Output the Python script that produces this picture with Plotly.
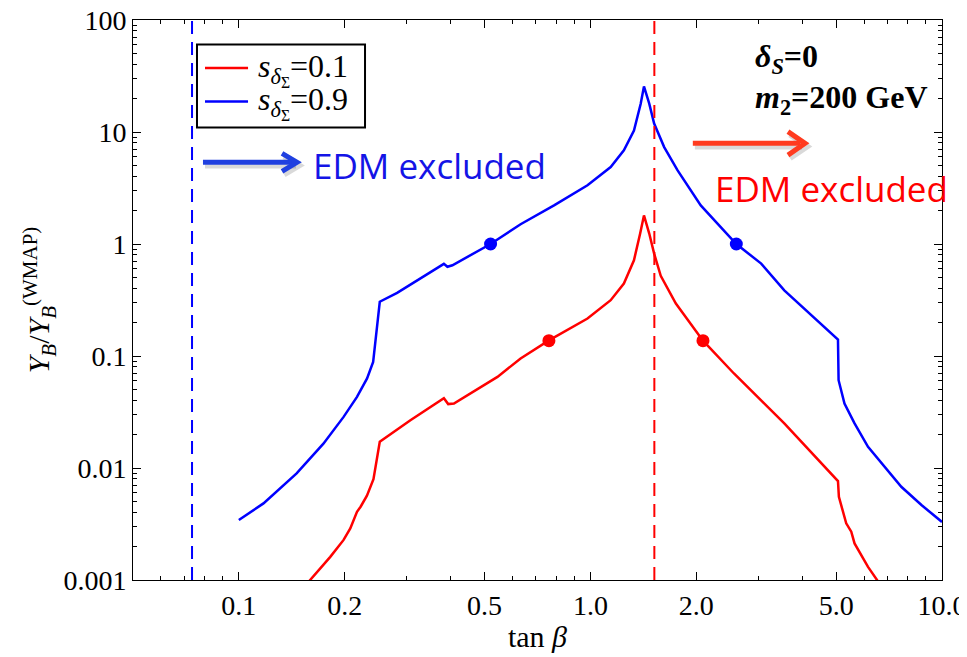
import math
import plotly.graph_objects as go

# ---------------- data ----------------
tanb_blue = [0.100, 0.1175, 0.146, 0.174, 0.1986, 0.2168, 0.2316, 0.241, 0.2517, 0.282,
             0.383, 0.392, 0.405, 0.52, 0.633, 0.788, 0.981, 1.142, 1.245, 1.33, 1.39, 1.42,
             1.47, 1.518, 1.621, 1.77, 2.06, 2.60, 3.06, 3.56, 5.06, 5.08, 5.28,
             5.64, 6.16, 6.87, 7.66, 8.74, 10.0]
yb_blue = [0.00343, 0.00483, 0.00895, 0.0165, 0.0286, 0.0432, 0.063, 0.0886, 0.305, 0.366,
           0.665, 0.626, 0.646, 1.0, 1.50, 2.21, 3.34, 4.87, 6.85, 10.3, 17.9, 25.5,
           17.9, 11.9, 7.33, 4.54, 2.21, 1.0, 0.668, 0.386, 0.140, 0.0608, 0.0377,
           0.0250, 0.01545, 0.01026, 0.0068, 0.00467, 0.0033]

tanb_red = [0.150, 0.1595, 0.182, 0.1986, 0.2075, 0.2168, 0.222, 0.2314, 0.2415, 0.2517,
            0.3076, 0.383, 0.394, 0.409, 0.488, 0.544, 0.633, 0.762, 0.981, 1.142, 1.245,
            1.33, 1.385, 1.42, 1.47, 1.518, 1.585, 1.75, 2.09, 2.56, 3.56, 5.06, 5.09,
            5.34, 5.52, 5.64, 6.16, 6.79]
yb_red = [0.0008, 0.001, 0.00161, 0.00228, 0.00289, 0.00406, 0.00451, 0.00567, 0.00796, 0.01714,
          0.0267, 0.042, 0.0372, 0.0377, 0.053, 0.0651, 0.095, 0.138, 0.216, 0.315, 0.444,
          0.716, 1.24, 1.80, 1.24, 0.82, 0.52, 0.294, 0.137, 0.0698, 0.025, 0.00764, 0.00553,
          0.00321, 0.0027, 0.00212, 0.00131, 0.00084]

dots_blue_x = [0.52, 2.60]
dots_blue_y = [1.0, 1.0]
dots_red_x = [0.762, 2.09]
dots_red_y = [0.137, 0.137]

edm_bound_blue = 0.0736   # tan beta lower EDM bound (blue)
edm_bound_red = 1.52      # tan beta upper EDM bound (red)

legend_labels = ["<i>s</i><sub><i>δ</i><sub>Σ</sub></sub>=0.1",
                 "<i>s</i><sub><i>δ</i><sub>Σ</sub></sub>=0.9"]

x_tickvals = [0.1, 0.2, 0.5, 1.0, 2.0, 5.0, 10.0]
x_ticktext = ["0.1", "0.2", "0.5", "1.0", "2.0", "5.0", "10.0"]
x_minor = [0.06, 0.07, 0.08, 0.09, 0.3, 0.4, 0.6, 0.7, 0.8, 0.9, 3, 4, 6, 7, 8, 9]
y_tickvals = [0.001, 0.01, 0.1, 1, 10, 100]
y_ticktext = ["0.001", "0.01", "0.1", "1", "10", "100"]
y_minor = [m * 10.0 ** e for e in range(-3, 2) for m in range(2, 10)]

serif = "Liberation Serif"
BLUE = "#0000ff"
RED = "#ff0000"

fig = go.Figure()
fig.add_trace(go.Scatter(x=tanb_red, y=yb_red, mode="lines",
                         line=dict(color=RED, width=2.5), name=legend_labels[0],
                         showlegend=False))
fig.add_trace(go.Scatter(x=tanb_blue, y=yb_blue, mode="lines",
                         line=dict(color=BLUE, width=2.5), name=legend_labels[1],
                         showlegend=False))
fig.add_trace(go.Scatter(x=dots_red_x, y=dots_red_y, mode="markers",
                         marker=dict(color=RED, size=13), showlegend=False))
fig.add_trace(go.Scatter(x=dots_blue_x, y=dots_blue_y, mode="markers",
                         marker=dict(color=BLUE, size=13), showlegend=False))

# EDM bounds (dashed verticals)
fig.add_shape(type="line", xref="x", yref="paper", x0=edm_bound_blue, x1=edm_bound_blue,
              y0=0, y1=1, line=dict(color=BLUE, width=2, dash="13px,8px"))
fig.add_shape(type="line", xref="x", yref="paper", x0=edm_bound_red, x1=edm_bound_red,
              y0=0, y1=1, line=dict(color=RED, width=2, dash="13px,8px"))


def arrow(x0, x1, y, tipx, backx, dy, color):
    sx, sy = 0.0025, -0.0054
    for (ox, oy, c, w) in [(sx, sy, "rgba(0,0,0,0.15)", 6), (0, 0, color, 5)]:
        fig.add_shape(type="line", xref="paper", yref="paper",
                      x0=x0 + ox, x1=x1 + ox, y0=y + oy, y1=y + oy,
                      line=dict(color=c, width=w))
        fig.add_shape(type="path", xref="paper", yref="paper",
                      path=f"M {backx+ox},{y+dy+oy} L {tipx+ox},{y+oy} L {backx+ox},{y-dy+oy}",
                      line=dict(color=c, width=w))


arrow(0.0865, 0.199, 0.7458, 0.2027, 0.1842, 0.016, "#2040e0")
arrow(0.692, 0.8245, 0.7797, 0.8307, 0.8096, 0.021, "#ff3b1f")

fig.add_annotation(xref="paper", yref="paper", x=0.367, y=0.740, xanchor="center",
                   yanchor="middle", text="EDM excluded", showarrow=False,
                   font=dict(family="Open Sans", size=35, color="#1414e6"))
fig.add_annotation(xref="paper", yref="paper", x=0.863, y=0.699, xanchor="center",
                   yanchor="middle", text="EDM excluded", showarrow=False,
                   font=dict(family="Open Sans", size=35, color="#ff0000"))
fig.add_annotation(xref="paper", yref="paper", x=0.766, y=0.932, xanchor="left",
                   yanchor="middle", text="<b><i>δ</i><sub><i>S</i></sub>=0</b>",
                   showarrow=False, font=dict(family=serif, size=32, color="black"))
fig.add_annotation(xref="paper", yref="paper", x=0.766, y=0.858, xanchor="left",
                   yanchor="middle", text="<b><i>m</i><sub>2</sub>=200 GeV</b>",
                   showarrow=False, font=dict(family=serif, size=32, color="black"))

# custom legend box
fig.add_shape(type="rect", xref="paper", yref="paper", x0=0.0791, x1=0.2868,
              y0=0.8082, y1=0.9563, line=dict(color="black", width=2), fillcolor="white")
for ly, col, lab in [(0.9144, RED, legend_labels[0]), (0.8546, BLUE, legend_labels[1])]:
    fig.add_shape(type="line", xref="paper", yref="paper", x0=0.0890, x1=0.1422,
                  y0=ly, y1=ly, line=dict(color=col, width=2.5))
    fig.add_annotation(xref="paper", yref="paper", x=0.1520, y=ly - 0.002, xanchor="left",
                       yanchor="middle", text=lab, showarrow=False,
                       font=dict(family=serif, size=32, color="black"))

axis_common = dict(type="log", showgrid=False, zeroline=False, showline=True,
                   linecolor="black", linewidth=1, mirror="allticks",
                   ticks="inside", ticklen=8, tickwidth=1, tickcolor="black",
                   tickmode="array", ticklabeloverflow="allow",
                   tickfont=dict(family=serif, size=28, color="black"))

fig.update_xaxes(**axis_common, range=[math.log10(0.05), 1.0],
                 tickvals=x_tickvals, ticktext=x_ticktext,
                 minor=dict(tickmode="array", tickvals=x_minor, ticks="inside",
                            ticklen=4, tickcolor="black", showgrid=False),
                 title=dict(text="tan <i>β</i>", font=dict(family=serif, size=30, color="black"),
                            standoff=6))
fig.update_yaxes(**axis_common, range=[-3, 2],
                 tickvals=y_tickvals, ticktext=y_ticktext,
                 minor=dict(tickmode="array", tickvals=y_minor, ticks="inside",
                            ticklen=4, tickcolor="black", showgrid=False),
                 title=dict(text="<i>Y<sub>B</sub></i>/<i>Y<sub>B</sub></i><sup>(WMAP)</sup>",
                            font=dict(family=serif, size=30, color="black"), standoff=4))

# the page body adds an 8px margin, so the figure is sized to the remaining window
fig.update_layout(width=959, height=649,
                  margin=dict(l=125, r=25, t=12, b=77, autoexpand=False),
                  plot_bgcolor="white", paper_bgcolor="white", showlegend=False)

fig.write_html("out.html")
